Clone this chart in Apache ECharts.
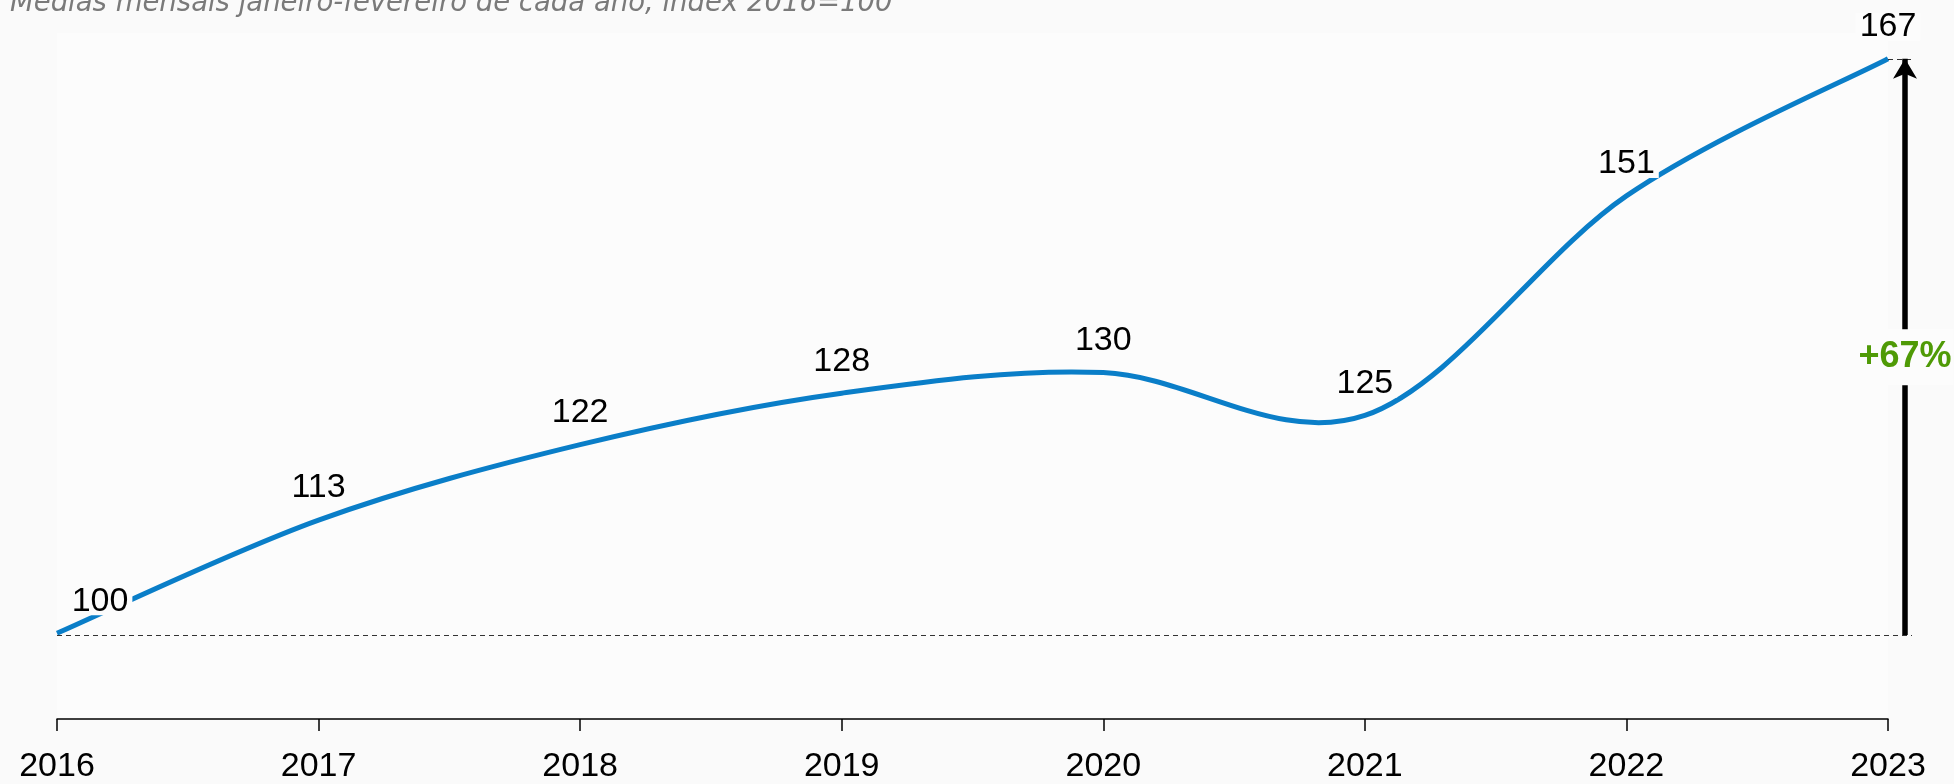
<!DOCTYPE html>
<html>
<head>
<meta charset="utf-8">
<script src="https://cdn.jsdelivr.net/npm/echarts@6/dist/echarts.min.js"></script>
<style>
html, body { margin: 0; padding: 0; background: #fafafa; }
#container { width: 1954px; height: 784px; }
</style>
</head>
<body>
<div id="container"></div>
<script>
var years = [2016, 2017, 2018, 2019, 2020, 2021, 2022, 2023];
var values = [100, 113.2, 122, 128, 130.4, 125.4, 151, 167];
var titleText = 'Médias mensais janeiro-fevereiro de cada ano, index 2016=100';

var first = values[0];
var last = values[values.length - 1];
var lastYear = years[years.length - 1];
var growth = '+' + Math.round((last - first) / first * 100) + '%';

var dom = document.getElementById('container');
var myChart = echarts.init(dom);
var bg = '#fcfcfc';

// plot geometry: grid 0 holds the year axis, grid 1 is a bit wider on the right for the arrow
var gridLeft = 57, gridRight = 66, extraRight = 24;
var unitPx = (1954 - gridLeft - gridRight) / (lastYear - years[0]);
var xMax2 = lastYear + extraRight / unitPx;
var arrowX = lastYear + 17 / unitPx;

var points = years.map(function (y, i) { return [y, values[i]]; });

var lineData = points.map(function (p, i) {
    var d = {value: p};
    if (i === 0) {
        d.label = {offset: [43, 0]};
    }
    return d;
});

// smoothed curve like a spreadsheet chart (catmull-rom, 1/6 tension)
function renderCurve(params, api) {
    if (params.dataIndex !== 0) {
        return null;
    }
    var px = points.map(function (p) { return api.coord(p); });
    var d = 'M' + px[0][0] + ',' + px[0][1];
    for (var i = 0; i < px.length - 1; i++) {
        var p0 = px[Math.max(i - 1, 0)];
        var p1 = px[i];
        var p2 = px[i + 1];
        var p3 = px[Math.min(i + 2, px.length - 1)];
        var c1x = p1[0] + (p2[0] - p0[0]) / 6, c1y = p1[1] + (p2[1] - p0[1]) / 6;
        var c2x = p2[0] - (p3[0] - p1[0]) / 6, c2y = p2[1] - (p3[1] - p1[1]) / 6;
        d += ' C' + c1x + ',' + c1y + ' ' + c2x + ',' + c2y + ' ' + p2[0] + ',' + p2[1];
    }
    return {
        type: 'path',
        shape: {pathData: d},
        style: {fill: null, stroke: '#0a7ec8', lineWidth: 5, lineCap: 'butt'}
    };
}

var labelFont = 'Liberation Sans';

option = {
    backgroundColor: '#fafafa',
    animation: false,
    title: {
        text: titleText,
        left: 10,
        top: -10,
        padding: 0,
        textStyle: {
            fontFamily: 'DejaVu Sans',
            fontStyle: 'italic',
            fontWeight: 'normal',
            fontSize: 27.5,
            color: '#7a7a7a'
        }
    },
    grid: [
        {left: gridLeft, right: gridRight, top: 33, bottom: 63, show: true, backgroundColor: bg, borderWidth: 0},
        {left: gridLeft, right: gridRight - extraRight, top: 33, bottom: 63}
    ],
    xAxis: [
        {
            type: 'value',
            gridIndex: 0,
            min: years[0],
            max: lastYear,
            interval: 1,
            axisLine: {show: true, onZero: false, lineStyle: {color: '#000', width: 1.5}},
            axisTick: {show: true, length: 12, lineStyle: {color: '#000', width: 1.5}},
            splitLine: {show: false},
            axisLabel: {
                margin: 31,
                fontFamily: labelFont,
                fontSize: 34,
                color: '#000',
                formatter: function (v) { return String(v); }
            }
        },
        {
            type: 'value',
            gridIndex: 1,
            min: years[0],
            max: xMax2,
            show: false
        }
    ],
    yAxis: [
        {type: 'value', gridIndex: 0, min: 90, max: 170, show: false},
        {type: 'value', gridIndex: 1, min: 90, max: 170, show: false}
    ],
    series: [
        {
            type: 'custom',
            xAxisIndex: 0,
            yAxisIndex: 0,
            z: 2,
            clip: false,
            renderItem: renderCurve,
            data: points
        },
        {
            type: 'line',
            xAxisIndex: 0,
            yAxisIndex: 0,
            z: 4,
            symbol: 'circle',
            symbolSize: 2,
            showSymbol: true,
            data: lineData,
            lineStyle: {width: 0, color: 'rgba(0,0,0,0)'},
            itemStyle: {color: 'rgba(0,0,0,0)', borderWidth: 0},
            label: {
                show: true,
                position: 'top',
                distance: 17,
                fontFamily: labelFont,
                fontSize: 34,
                lineHeight: 28,
                color: '#000',
                backgroundColor: bg,
                padding: [0, 4],
                formatter: function (p) { return Math.round(p.value[1]); }
            }
        },
        {
            type: 'line',
            xAxisIndex: 1,
            yAxisIndex: 1,
            z: 3,
            data: [],
            markLine: {
                silent: true,
                symbol: ['none', 'none'],
                label: {show: false},
                data: [
                    [
                        {coord: [years[0], first], lineStyle: {color: '#333', width: 1, type: [5, 4]}},
                        {coord: [xMax2, first]}
                    ],
                    [
                        {coord: [lastYear, last], lineStyle: {color: '#333', width: 1, type: [5, 4]}},
                        {coord: [xMax2, last]}
                    ]
                ]
            }
        },
        {
            type: 'line',
            xAxisIndex: 1,
            yAxisIndex: 1,
            z: 5,
            data: [],
            markLine: {
                silent: true,
                symbol: ['none', 'arrow'],
                symbolSize: [18, 20],
                label: {show: false},
                lineStyle: {color: '#000', width: 5.5, type: 'solid'},
                data: [
                    [
                        {coord: [arrowX, first]},
                        {coord: [arrowX, last]}
                    ]
                ]
            },
            markPoint: {
                silent: true,
                symbol: 'rect',
                symbolSize: 0,
                data: [
                    {coord: [arrowX, (first + last) / 2 - 1.2], value: growth}
                ],
                label: {
                    show: true,
                    position: 'inside',
                    formatter: growth,
                    fontFamily: labelFont,
                    fontWeight: 'bold',
                    fontSize: 36,
                    color: '#4f9a06',
                    backgroundColor: bg,
                    padding: [10, 2]
                }
            }
        }
    ]
};

if (option && typeof option === 'object') {
    myChart.setOption(option, true);
}
</script>
</body>
</html>
